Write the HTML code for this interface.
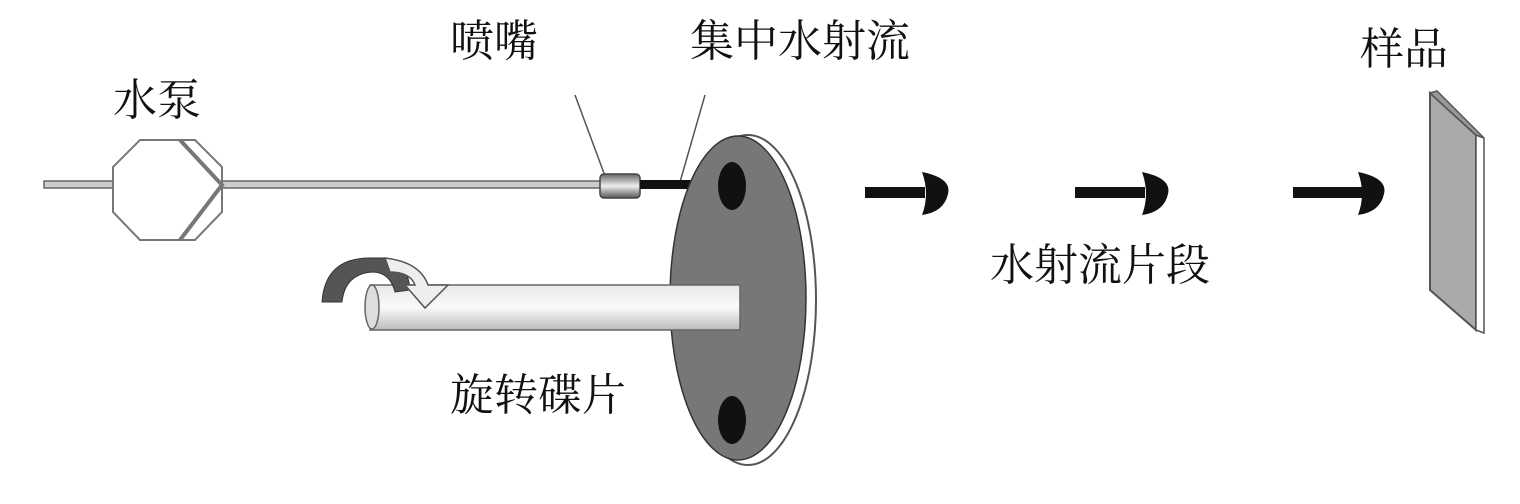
<!DOCTYPE html>
<html><head><meta charset="utf-8"><style>
body{margin:0;background:#fff;width:1520px;height:504px;overflow:hidden}
svg{display:block}
text{font-family:"Liberation Serif","Noto Serif CJK SC","Noto Sans CJK SC",serif;font-size:44px;fill:#111}
</style></head><body>
<svg width="1520" height="504" viewBox="0 0 1520 504">
<defs>
<linearGradient id="rod" x1="0" y1="0" x2="0" y2="1"><stop offset="0" stop-color="#e8e8e8"/><stop offset="0.5" stop-color="#fafafa"/><stop offset="1" stop-color="#bbb"/></linearGradient>
<linearGradient id="nz" x1="0" y1="0" x2="0" y2="1"><stop offset="0" stop-color="#666"/><stop offset="0.5" stop-color="#eee"/><stop offset="1" stop-color="#555"/></linearGradient>
<path id="ah" d="M0,0 Q30,6 26,22 Q22,40 0,43 Q8,22 0,0Z"/>
</defs>
<rect x="44" y="181" width="560" height="7" fill="#ccc" stroke="#666" stroke-width="1.5"/>
<polygon points="140,140 195,140 222,167 222,212 195,240 140,240 113,212 113,167" fill="#fff" stroke="#777" stroke-width="2"/>
<polyline points="180,140 222,185 180,240" fill="none" stroke="#777" stroke-width="4"/>
<line x1="575" y1="95" x2="605" y2="176" stroke="#555" stroke-width="1.5"/>
<line x1="705" y1="95" x2="680" y2="182" stroke="#555" stroke-width="1.5"/>
<rect x="600" y="174" width="40" height="24" rx="4" fill="url(#nz)" stroke="#444" stroke-width="1.5"/>
<rect x="640" y="180" width="85" height="9" fill="#111"/>
<ellipse cx="748" cy="300" rx="68" ry="165" fill="#fff" stroke="#555" stroke-width="2"/>
<ellipse cx="738" cy="298" rx="68" ry="162" fill="#777" stroke="#333" stroke-width="1.5"/>
<ellipse cx="732" cy="186" rx="14" ry="24" fill="#111"/>
<ellipse cx="732" cy="420" rx="14" ry="24" fill="#111"/>
<rect x="370" y="285" width="370" height="45" fill="url(#rod)" stroke="#666" stroke-width="1.5"/>
<ellipse cx="372" cy="307" rx="7" ry="22" fill="#ddd" stroke="#666" stroke-width="1.5"/>
<path d="M322,302 Q325,258 370,258 L385,258 Q408,262 410,290 L395,292 Q390,272 372,272 Q345,274 342,302 Z" fill="#555" stroke="#333" stroke-width="1"/>
<path d="M385,258 Q420,262 428,285 L448,285 L425,308 L405,285 L415,285 Q410,272 390,272 Z" fill="#eee" stroke="#555" stroke-width="1.5"/>
<g fill="#111">
<rect x="865" y="187" width="60" height="11"/><use href="#ah" x="922" y="172"/>
<rect x="1075" y="187" width="70" height="11"/><use href="#ah" x="1142" y="172"/>
<rect x="1293" y="187" width="70" height="11"/><use href="#ah" x="1358" y="172"/>
</g>
<polygon points="1430,93 1476,135 1476,330 1430,290" fill="#aaa" stroke="#555" stroke-width="2"/>
<polygon points="1476,135 1484,138 1484,333 1476,330" fill="#fff" stroke="#555" stroke-width="1.5"/>
<polygon points="1430,93 1437,91 1484,138 1476,135" fill="#999" stroke="#555" stroke-width="1.5"/>
<text x="113" y="115">水泵</text>
<text x="450" y="56">喷嘴</text>
<text x="690" y="56">集中水射流</text>
<text x="1360" y="64">样品</text>
<text x="990" y="280">水射流片段</text>
<text x="450" y="410">旋转碟片</text>
</svg>
</body></html>
